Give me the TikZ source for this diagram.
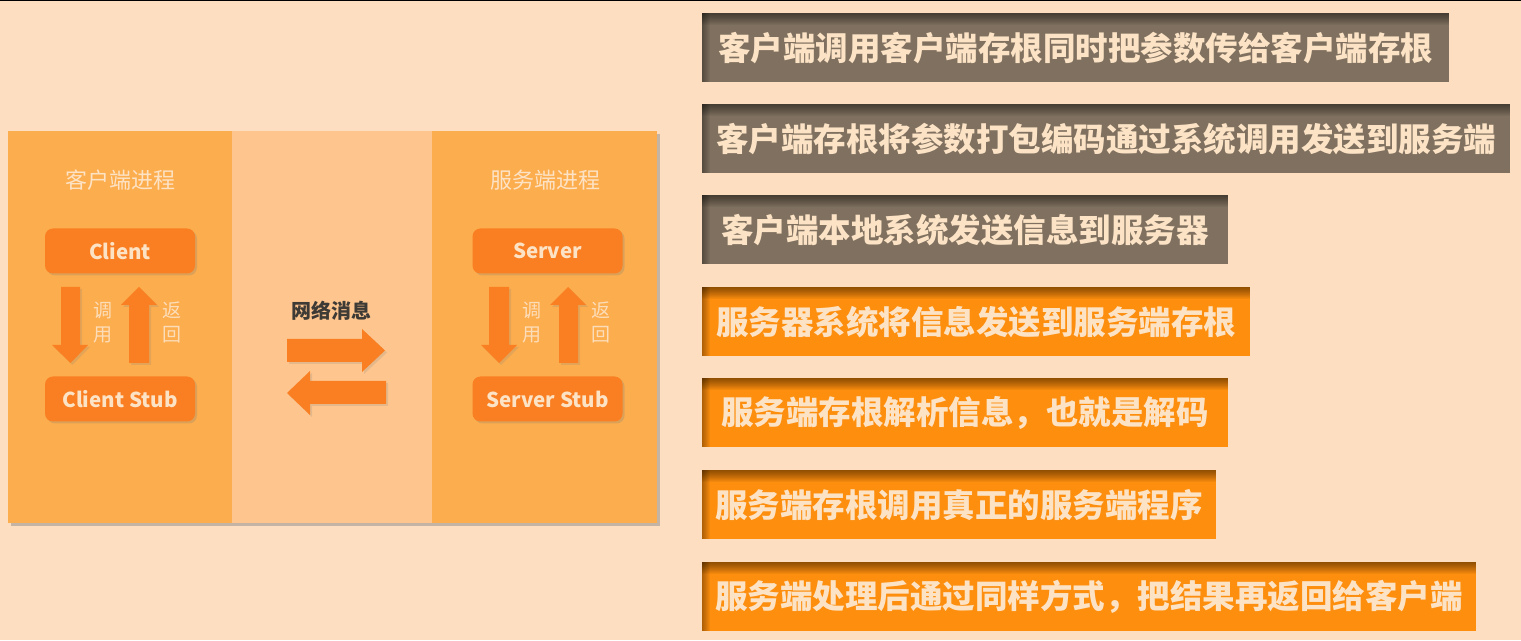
\documentclass[tikz,border=0pt]{standalone}
\usepackage{fontspec}
\setmainfont{Noto Sans CJK SC}
\usetikzlibrary{shadows}
\definecolor{bg}{HTML}{FEDEC0}
\definecolor{colside}{HTML}{FCAD4D}
\definecolor{colmid}{HTML}{FEC68E}
\definecolor{boxor}{HTML}{F97F22}
\definecolor{cream}{HTML}{FCE3C6}
\definecolor{stepgray}{HTML}{7F705F}
\definecolor{steporange}{HTML}{FD8E0E}
\definecolor{darktxt}{HTML}{3E3A36}
\tikzset{
  procbox/.style={fill=boxor, rounded corners=8pt, minimum width=150pt, minimum height=45pt,
    text=cream, font=\fontsize{20.5}{20.5}\selectfont\bfseries, inner sep=0pt,
    drop shadow={opacity=0.25, shadow xshift=2pt, shadow yshift=-2pt}},
  ptitle/.style={text=cream, font=\fontsize{22}{22}\selectfont, inner sep=0pt},
  arrowlbl/.style={text=cream, font=\fontsize{19}{19}\selectfont, inner sep=0pt, opacity=0.9},
  blockarrow/.style={fill=boxor, drop shadow={opacity=0.2, shadow xshift=2pt, shadow yshift=-2pt}},
  stepbase/.style={anchor=north west, minimum height=69pt, inner sep=0pt, text=cream,
    font=\fontsize{32.5}{32.5}\selectfont\bfseries},
  stepgraybox/.style={stepbase, fill=stepgray},
  steporangebox/.style={stepbase, fill=steporange},
  insetlayer/.style={fill=black, opacity=0.045},
}
\newcommand{\insetshadow}[1]{%
  \foreach \i in {1,...,12}{\fill[insetlayer] (#1.north west) rectangle ([yshift=-\i pt]#1.north east);}
  \foreach \i in {1,...,8}{\fill[insetlayer] (#1.north west) rectangle ([xshift=\i pt]#1.south west);}
}
\begin{document}
\begin{tikzpicture}[x=1pt,y=1pt]
\useasboundingbox (0,0) rectangle (1521,640);
\fill[bg] (0,0) rectangle (1521,640);
\fill[black] (0,638.8) rectangle (1521,640);

% left panel
\fill[black!45, opacity=0.5] (11,114) rectangle (660,506);
\fill[colside] (8,117) rectangle (232,509);
\fill[colmid] (232,117) rectangle (432,509);
\fill[colside] (432,117) rectangle (657,509);

\node[ptitle] (ctitle) at (120,460) {客户端进程};
\node[ptitle] (stitle) at (545,460) {服务端进程};

\node[procbox] (client) at (120,389) {Client};
\node[procbox] (cstub) at (120,241) {Client Stub};
\node[procbox] (server) at (547.5,389) {Server};
\node[procbox] (sstub) at (547.5,241) {Server Stub};

% vertical arrows client side
\fill[blockarrow] (61,353) -- (80,353) -- (80,295) -- (88,295) -- (70.5,277) -- (52,295) -- (61,295) -- cycle;
\fill[blockarrow] (129,277) -- (149,277) -- (149,335) -- (157,335) -- (139,353) -- (121,335) -- (129,335) -- cycle;
% vertical arrows server side
\fill[blockarrow] (489,353) -- (509,353) -- (509,295) -- (517,295) -- (499,277) -- (481,295) -- (489,295) -- cycle;
\fill[blockarrow] (559,277) -- (578,277) -- (578,335) -- (586,335) -- (568,353) -- (550,335) -- (559,335) -- cycle;

\node[arrowlbl] (c1) at (103,330) {调};
\node[arrowlbl] (c2) at (103,305) {用};
\node[arrowlbl] (c3) at (172,330) {返};
\node[arrowlbl] (c4) at (172,305) {回};
\node[arrowlbl] (s1) at (532,330) {调};
\node[arrowlbl] (s2) at (532,305) {用};
\node[arrowlbl] (s3) at (601,330) {返};
\node[arrowlbl] (s4) at (601,305) {回};

% network
\node[text=darktxt, font=\fontsize{20}{20}\selectfont\bfseries, inner sep=0pt] (net) at (331,329) {网络消息};
\fill[blockarrow] (287,301) -- (362,301) -- (362,311) -- (385,289.5) -- (362,268) -- (362,278) -- (287,278) -- cycle;
\fill[blockarrow] (386,259) -- (310,259) -- (310,269) -- (287,247) -- (310,225) -- (310,236) -- (386,236) -- cycle;

% steps
\node[stepgraybox, minimum width=747pt] (st1) at (702,627) {客户端调用客户端存根同时把参数传给客户端存根};
\insetshadow{st1}
\node[stepgraybox, minimum width=808pt] (st2) at (702,536) {客户端存根将参数打包编码通过系统调用发送到服务端};
\insetshadow{st2}
\node[stepgraybox, minimum width=526pt] (st3) at (702,445) {客户端本地系统发送信息到服务器};
\insetshadow{st3}
\node[steporangebox, minimum width=548pt] (st4) at (702,353) {服务器系统将信息发送到服务端存根};
\insetshadow{st4}
\node[steporangebox, minimum width=526pt] (st5) at (702,262) {服务端存根解析信息，也就是解码};
\insetshadow{st5}
\node[steporangebox, minimum width=514pt] (st6) at (702,170) {服务端存根调用真正的服务端程序};
\insetshadow{st6}
\node[steporangebox, minimum width=774pt] (st7) at (702,78) {服务端处理后通过同样方式，把结果再返回给客户端};
\insetshadow{st7}
\end{tikzpicture}
\end{document}
